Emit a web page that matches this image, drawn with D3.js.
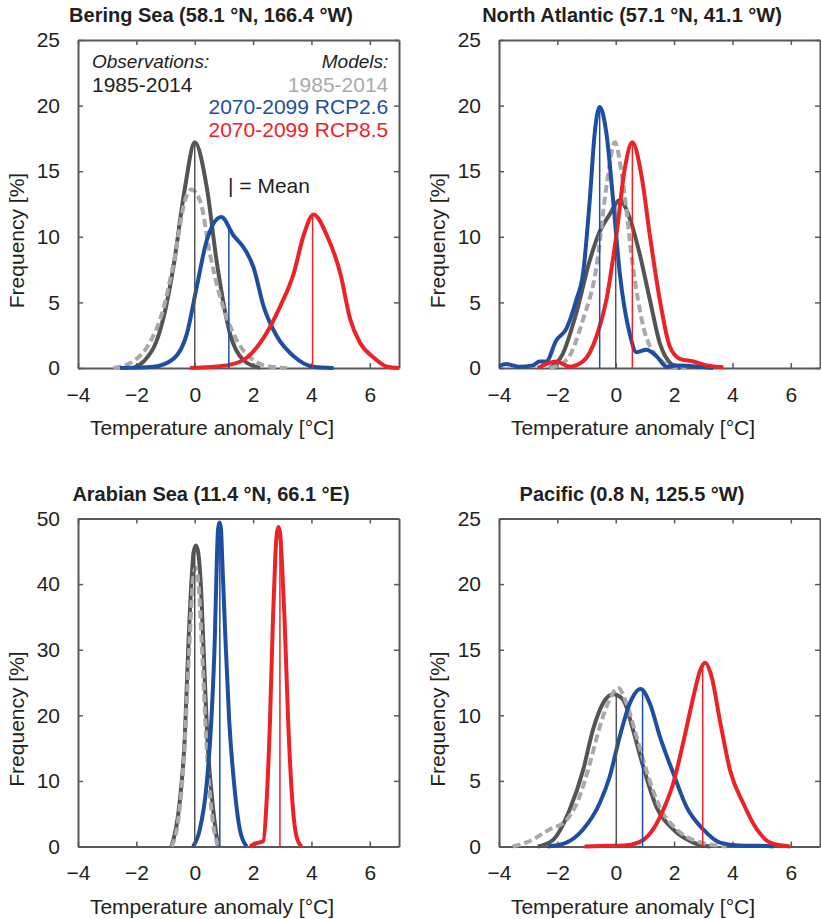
<!DOCTYPE html>
<html>
<head>
<meta charset="utf-8">
<script src="https://cdn.jsdelivr.net/npm/d3@7"></script>
<style>
    body { margin: 0; background: #fff; }
    text { font-family: "Liberation Sans", Arial, Helvetica, sans-serif; fill: #231f20; }
</style>
</head>
<body>
<svg id="chart" width="821" height="919"></svg>
<script>
// ---- data ----
const xTicks = [-4, -2, 0, 2, 4, 6];
const yTicksLow = [0, 5, 10, 15, 20, 25];
const yTicksHigh = [0, 10, 20, 30, 40, 50];

const panelTitles = [
    'Bering Sea (58.1 °N, 166.4 °W)',
    'North Atlantic (57.1 °N, 41.1 °W)',
    'Arabian Sea (11.4 °N, 66.1 °E)',
    'Pacific (0.8 N, 125.5 °W)'
];
const panelYMax = [25, 25, 50, 25];

// [temperature anomaly, frequency %]
const beringObs = [[-2.1,0],[-1.75,0.5],[-1.3,2.1],[-1.0,4.5],[-0.73,7.7],[-0.33,13.8],[0.0,17.2],[0.41,13.8],[0.76,8.0],[1.21,2.6],[1.67,0.6],[2.24,0]];
const beringModel = [[-2.79,0],[-2.12,0.5],[-1.55,1.9],[-1.09,4.4],[-0.75,7.7],[-0.3,13.0],[-0.12,13.6],[0.19,12.7],[0.53,8.6],[0.87,5.4],[1.33,2.6],[2.01,0.6],[2.6,0.1],[3.16,0]];
const beringRcp26 = [[-2.56,0],[-1.42,0.1],[-0.73,0.7],[-0.27,2.6],[0.07,6.2],[0.41,9.7],[0.91,11.5],[1.33,10.1],[1.73,9.0],[2.01,7.7],[2.36,4.7],[2.82,2.4],[3.39,0.9],[4.07,0.1],[4.76,0]];
const beringRcp85 = [[-0.16,0],[1.1,0.2],[1.79,0.8],[2.36,2.3],[2.93,4.7],[3.39,7.2],[3.73,10.1],[4.07,11.7],[4.53,10.1],[4.99,7.2],[5.33,3.7],[5.67,1.9],[6.13,0.8],[6.59,0.1],[7.05,0]];
const beringMeans = [0.0, 1.17, 4.04];

const atlanticObs = [[-2.27,0],[-1.81,1.1],[-1.35,4.2],[-0.89,8.2],[-0.55,10.4],[-0.21,11.7],[0.14,12.8],[0.48,11.4],[0.82,8.7],[1.17,5.2],[1.51,1.9],[1.86,0.4],[2.2,0]];
const atlanticModel = [[-2.27,0],[-1.69,0.6],[-1.12,3.7],[-0.66,7.7],[-0.32,13.8],[-0.03,17.2],[0.25,14.1],[0.59,7.7],[0.94,3.2],[1.4,0.9],[1.97,0.1],[2.43,0]];
const atlanticRcp26 = [[-4.04,0.1],[-3.76,0.3],[-3.3,0.1],[-2.84,0.2],[-2.61,0.5],[-2.38,0.5],[-2.04,2.1],[-1.69,3.0],[-1.35,5.2],[-1.12,7.2],[-0.89,12.8],[-0.72,17.9],[-0.55,19.9],[-0.32,17.9],[-0.09,12.8],[0.14,7.2],[0.48,2.6],[0.71,1.2],[1.05,1.4],[1.4,0.9],[1.74,0.1],[2.09,0.2],[2.89,0.1],[3.34,0]];
const atlanticRcp85 = [[-2.67,0],[-2.04,0.5],[-1.58,0.1],[-1.12,0.5],[-0.66,2.4],[-0.32,5.2],[0.02,10.1],[0.31,15.2],[0.57,17.2],[0.88,14.7],[1.17,10.1],[1.51,5.2],[1.86,1.6],[2.2,0.7],[2.66,0.5],[3.12,0.2],[3.69,0.05]];
const atlanticMeans = [0.0, -0.55, 0.57];

const arabianObs = [[-0.8,0],[-0.52,6.6],[-0.34,16.7],[-0.23,29.4],[-0.11,40.6],[-0.04,44.8],[0.04,45.9],[0.12,44.8],[0.2,40.6],[0.31,29.4],[0.43,16.7],[0.61,6.6],[0.8,0]];
const arabianModel = [[-0.8,0],[-0.55,4.5],[-0.36,14.2],[-0.2,29],[-0.07,40],[0.03,42.5],[0.13,40],[0.26,29],[0.42,14.2],[0.6,4.5],[0.8,0]];
const arabianRcp26 = [[-0.06,0],[0.17,2.5],[0.4,9.1],[0.57,19.3],[0.69,31.9],[0.76,44.0],[0.8,48.4],[0.85,49.4],[0.9,48.4],[0.94,44.0],[1.05,31.9],[1.18,19.3],[1.36,9.1],[1.55,2.5],[1.78,0]];
const arabianRcp85 = [[1.89,0],[2.12,0.5],[2.35,0.8],[2.46,6.6],[2.58,19.3],[2.68,34.5],[2.76,44.0],[2.81,47.6],[2.87,48.7],[2.93,47.6],[2.98,44.0],[3.08,34.5],[3.2,19.3],[3.35,6.6],[3.52,1],[3.67,0]];
const arabianMeans = [0.0, 0.86, 2.92];

const pacificObs = [[-2.67,0],[-2.15,0.5],[-1.58,2.8],[-1.12,5.8],[-0.78,8.9],[-0.44,10.9],[-0.09,11.6],[0.25,11.2],[0.59,8.9],[0.94,6.1],[1.4,3.0],[1.97,1.3],[2.66,0.3],[3.23,0]];
const pacificModel = [[-3.53,0],[-2.96,0.4],[-2.27,1.3],[-1.69,2.0],[-1.24,3.8],[-0.89,6.3],[-0.55,9.1],[-0.21,11.2],[0.08,12.1],[0.37,10.9],[0.71,8.4],[1.05,5.8],[1.51,3.0],[2.09,1.3],[2.77,0.4],[3.8,0]];
const pacificRcp26 = [[-2.33,0],[-1.69,0.3],[-1.12,1.3],[-0.55,3.3],[-0.21,5.3],[0.14,8.4],[0.48,10.9],[0.85,12.0],[1.17,10.9],[1.51,8.4],[1.97,5.6],[2.43,3.0],[3.0,1.3],[3.57,0.3],[4.37,0.05],[4.95,0.05],[5.41,0]];
const pacificRcp85 = [[-1.07,0],[-0.21,0.05],[0.37,0.1],[0.94,0.5],[1.28,1.3],[1.63,2.8],[1.97,4.8],[2.31,7.9],[2.66,11.4],[2.89,13.4],[3.06,14.0],[3.29,12.9],[3.57,9.6],[3.92,5.8],[4.37,3.3],[4.84,1.3],[5.29,0.3],[5.98,0]];
const pacificMeans = [0.02, 0.92, 2.98];

const panelSeries = [
    [beringObs, beringModel, beringRcp26, beringRcp85],
    [atlanticObs, atlanticModel, atlanticRcp26, atlanticRcp85],
    [arabianObs, arabianModel, arabianRcp26, arabianRcp85],
    [pacificObs, pacificModel, pacificRcp26, pacificRcp85]
];
const panelMeans = [beringMeans, atlanticMeans, arabianMeans, pacificMeans];

// ---- styles / layout ----
const colors = {obs: '#545456', model: '#a7a9ac', rcp26: '#1d4ea1', rcp85: '#ec2227'};
const seriesStyle = [
    {color: colors.obs, dash: null},
    {color: colors.model, dash: '8,4'},
    {color: colors.rcp26, dash: null},
    {color: colors.rcp85, dash: null}
];
const meanColors = [colors.obs, colors.rcp26, colors.rcp85];
const meanSeriesIndex = [0, 2, 3];

const plotW = 321, plotH = 328;
const panelPos = [[78, 40], [499, 40], [78, 518.5], [499, 518.5]];
const axisColor = '#58595b';
const fontSize = 21;

const svg = d3.select('#chart');

// linear lookup of a curve's value at x (for mean line height)
function valueAt(series, xv) {
    for (let i = 1; i < series.length; i++) {
        const [x0, y0] = series[i - 1], [x1, y1] = series[i];
        if (xv >= x0 && xv <= x1) return y0 + (y1 - y0) * (xv - x0) / (x1 - x0);
    }
    return 0;
}

function styleAxis(g) {
    g.select('.domain').attr('stroke', axisColor).attr('stroke-width', 2);
    g.selectAll('.tick line').attr('stroke', axisColor).attr('stroke-width', 1.5);
    g.selectAll('.tick text')
        .attr('fill', '#231f20')
        .attr('font-size', fontSize)
        .attr('font-family', '"Liberation Sans", Arial, Helvetica, sans-serif');
}

function drawPanel(i) {
    const [left, top] = panelPos[i];
    const g = svg.append('g').attr('transform', `translate(${left},${top})`);

    const x = d3.scaleLinear().domain([-4, 7]).range([0, plotW]);
    const y = d3.scaleLinear().domain([0, panelYMax[i]]).range([plotH, 0]);
    const yTicks = panelYMax[i] === 50 ? yTicksHigh : yTicksLow;

    // box with inward ticks
    g.append('g').attr('transform', `translate(0,${plotH})`)
        .call(d3.axisBottom(x).tickValues(xTicks).tickSize(-5).tickSizeOuter(0).tickPadding(19))
        .call(styleAxis);
    g.append('g')
        .call(d3.axisTop(x).tickValues(xTicks).tickSize(-5).tickSizeOuter(0).tickFormat(''))
        .call(styleAxis);
    g.append('g')
        .call(d3.axisLeft(y).tickValues(yTicks).tickSize(-5).tickSizeOuter(0).tickPadding(18))
        .call(styleAxis);
    g.append('g').attr('transform', `translate(${plotW},0)`)
        .call(d3.axisRight(y).tickValues(yTicks).tickSize(-5).tickSizeOuter(0).tickFormat(''))
        .call(styleAxis);

    // titles
    g.append('text')
        .attr('x', 133).attr('y', -18)
        .attr('text-anchor', 'middle')
        .attr('font-size', 20).attr('font-weight', 'bold')
        .text(panelTitles[i]);
    g.append('text')
        .attr('x', 134).attr('y', plotH + 67)
        .attr('text-anchor', 'middle')
        .attr('font-size', fontSize)
        .text('Temperature anomaly [°C]');
    g.append('text')
        .attr('transform', `translate(-54.5,200.5) rotate(-90)`)
        .attr('text-anchor', 'middle')
        .attr('font-size', fontSize)
        .text('Frequency [%]');

    // clip horizontally only, so baseline strokes stay whole
    const clipId = 'clip' + i;
    g.append('clipPath').attr('id', clipId)
        .append('rect')
        .attr('x', 0).attr('y', -10)
        .attr('width', plotW).attr('height', plotH + 20);

    const line = d3.line()
        .x(d => x(d[0]))
        .y(d => y(d[1]))
        .curve(d3.curveMonotoneX);

    const plot = g.append('g').attr('clip-path', `url(#${clipId})`);

    plot.selectAll('.curve')
        .data(panelSeries[i])
        .join('path')
        .attr('class', 'curve')
        .attr('d', line)
        .attr('fill', 'none')
        .attr('stroke', (d, k) => seriesStyle[k].color)
        .attr('stroke-dasharray', (d, k) => seriesStyle[k].dash)
        .attr('stroke-width', 4)
        .attr('stroke-linejoin', 'round');

    // mean markers
    plot.selectAll('.mean')
        .data(panelMeans[i])
        .join('line')
        .attr('class', 'mean')
        .attr('x1', d => x(d)).attr('x2', d => x(d))
        .attr('y1', y(0))
        .attr('y2', (d, k) => y(valueAt(panelSeries[i][meanSeriesIndex[k]], d)))
        .attr('stroke', (d, k) => meanColors[k])
        .attr('stroke-width', 1.5);

    if (i === 0) drawLegend(g);
}

function drawLegend(g) {
    g.append('text').attr('x', 14).attr('y', 28)
        .attr('font-size', 19).attr('font-style', 'italic')
        .text('Observations:');
    g.append('text').attr('x', 14).attr('y', 51.7)
        .attr('font-size', fontSize)
        .text('1985-2014');

    const right = 310.3;
    g.append('text').attr('x', right).attr('y', 28)
        .attr('text-anchor', 'end')
        .attr('font-size', 19).attr('font-style', 'italic')
        .text('Models:');
    const modelLabels = [['1985-2014', colors.model], ['2070-2099 RCP2.6', colors.rcp26], ['2070-2099 RCP8.5', colors.rcp85]];
    modelLabels.forEach(([label, c], k) => {
        g.append('text').attr('x', right).attr('y', 51.7 + k * 22.5)
            .attr('text-anchor', 'end')
            .attr('font-size', fontSize)
            .style('fill', c)
            .text(label);
    });

    g.append('text').attr('x', 150).attr('y', 153)
        .attr('font-size', fontSize)
        .text('| = Mean');
}

[0, 1, 2, 3].forEach(drawPanel);
</script>
</body>
</html>
